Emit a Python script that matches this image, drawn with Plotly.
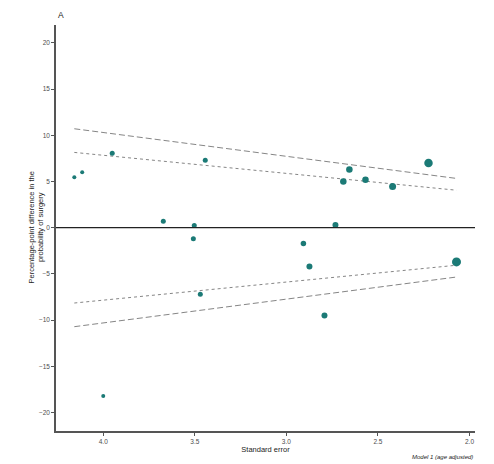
import plotly.graph_objects as go

se = [4.158, 4.115, 3.951, 3.443, 3.672, 3.503, 3.508, 3.470, 4.000,
      2.732, 2.907, 2.874, 2.792, 2.656, 2.689, 2.568, 2.420, 2.224, 2.071]
est = [5.45, 6.0, 8.06, 7.3, 0.7, 0.25, -1.2, -7.2, -18.2,
       0.3, -1.7, -4.2, -9.5, 6.3, 5.0, 5.2, 4.45, 7.0, -3.7]
msize = [4, 4, 5, 5, 5, 5, 5, 5, 4,
         6, 5.5, 6, 6, 6.5, 6.5, 6.5, 7, 8.5, 9]

z95 = 1.96
z99 = 2.576
se_lo = min(se)
se_hi = max(se)

x_ticks = [4.0, 3.5, 3.0, 2.5, 2.0]
y_ticks = [20, 15, 10, 5, 0, -5, -10, -15, -20]

fig = go.Figure()

for z, dash in [(z99, "6px,3px"), (z95, "3px,3px")]:
    for sgn in (1, -1):
        fig.add_trace(go.Scatter(
            x=[se_hi, se_lo], y=[sgn * z * se_hi, sgn * z * se_lo],
            mode="lines", line=dict(color="#666666", width=0.8, dash=dash),
            hoverinfo="skip", showlegend=False))

fig.add_trace(go.Scatter(
    x=se, y=est, mode="markers",
    marker=dict(color="#1b7a76", size=msize, opacity=1, line=dict(width=0)),
    showlegend=False))

fig.add_shape(type="line", xref="paper", x0=0, x1=1, yref="y", y0=0, y1=0,
              line=dict(color="#222222", width=1.2))

fig.update_layout(
    width=494, height=464,
    margin=dict(l=56, r=19, t=25, b=28),
    paper_bgcolor="white", plot_bgcolor="white",
    font=dict(family="Liberation Sans, Arial, sans-serif", size=7, color="#4d4d4d"),
    xaxis=dict(range=[4.258, 1.970], tickvals=x_ticks, ticktext=["4.0", "3.5", "3.0", "2.5", "2.0"],
               showgrid=False, zeroline=False, showline=True, linecolor="#555555", linewidth=1.5,
               ticks="outside", ticklen=3, tickcolor="#555555",
               tickfont=dict(size=6.5, color="#4d4d4d"),
               title=dict(text="Standard error", font=dict(size=7.5, color="#222222"), standoff=2)),
    yaxis=dict(range=[-22, 21.94], tickvals=y_ticks,
               showgrid=False, zeroline=False, showline=True, linecolor="#555555", linewidth=1.5,
               ticks="outside", ticklen=3, tickcolor="#555555",
               tickfont=dict(size=6.5, color="#4d4d4d")),
    annotations=[
        dict(text="Percentage-point difference in the<br>probability of surgery",
             xref="paper", yref="paper", x=0, y=0.5, xanchor="center", yanchor="middle",
             xshift=-20.5, textangle=-90, showarrow=False,
             font=dict(size=7.5, color="#222222")),
        dict(text="A", xref="paper", yref="paper", x=0, y=1, xanchor="left", yanchor="bottom",
             yshift=3, showarrow=False, font=dict(size=8.5, color="#222222")),
        dict(text="<i>Model 1 (age adjusted)</i>", xref="paper", yref="paper", x=1, y=0,
             xanchor="right", yanchor="top", yshift=-21, showarrow=False,
             font=dict(size=6, color="#222222")),
    ],
)

fig.write_html("out.html")
